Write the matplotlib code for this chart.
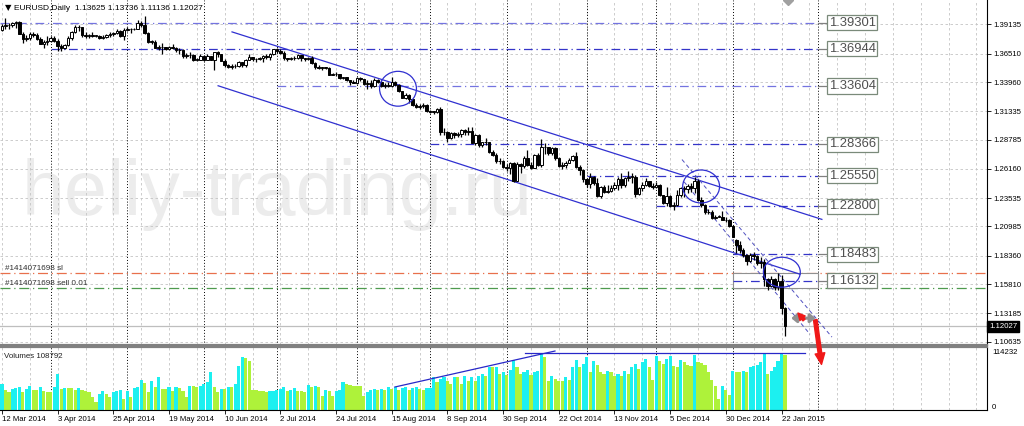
import numpy as np
import pandas as pd
import matplotlib
matplotlib.use("Agg")
import matplotlib.pyplot as plt
from matplotlib.patches import Ellipse, Rectangle, FancyArrowPatch

plt.rcParams['font.family'] = ['Liberation Sans', 'DejaVu Sans']

# ---------------- data ----------------
dates = pd.bdate_range('2014-03-12', '2015-01-23')
dates = dates[~dates.isin(pd.to_datetime(['2014-12-25', '2015-01-01']))]

open_ = [1.3863,1.3903,1.3906,1.3912,1.3928,1.3932,1.3828,1.3779,1.3792,1.3832,1.3823,1.3787,1.3740,1.3752,
 1.3767,1.3792,1.3765,1.3721,1.3703,1.3731,1.3792,1.3850,1.3888,1.3886,1.3815,1.3814,1.3817,1.3812,1.3813,1.3791,1.3800,1.3815,1.3826,1.3835,1.3855,1.3812,
 1.3868,1.3871,1.3870,1.3876,1.3929,1.3910,1.3835,1.3757,1.3760,1.3705,1.3711,1.3710,1.3696,1.3712,1.3699,1.3680,1.3685,1.3627,1.3638,1.3635,1.3595,1.3595,
 1.3633,1.3594,1.3627,1.3595,1.3663,1.3644,1.3589,1.3547,1.3530,1.3544,1.3540,1.3573,1.3546,1.3597,1.3620,1.3606,1.3600,1.3612,1.3626,1.3619,1.3647,
 1.3692,1.3679,1.3656,1.3610,1.3604,1.3610,1.3615,1.3635,1.3610,1.3604,1.3610,1.3565,1.3527,1.3525,1.3523,1.3524,1.3463,1.3465,1.3464,1.3431,1.3437,1.3410,1.3400,
 1.3390,1.3428,1.3420,1.3378,1.3388,1.3362,1.3414,1.3395,1.3364,1.3362,1.3364,1.3400,1.3368,1.3313,1.3255,1.3282,1.3240,1.3193,1.3170,1.3180,1.3186,
 1.3132,1.3128,1.3131,1.3150,1.2944,1.2951,1.2892,1.2940,1.2918,1.2926,1.2963,1.2945,1.2960,1.2850,1.2920,1.2830,1.2855,1.2854,1.2770,1.2745,1.2683,1.2685,
 1.2631,1.2623,1.2670,1.2510,1.2660,1.2645,1.2713,1.2655,1.2628,1.2740,1.2652,1.2816,1.2810,1.2760,1.2800,1.2710,1.2642,1.2650,1.2670,1.2700,1.2733,1.2630,1.2610,
 1.2525,1.2480,1.2540,1.2490,1.2375,1.2450,1.2410,1.2415,1.2440,1.2475,1.2525,1.2470,1.2530,1.2545,1.2545,1.2390,1.2445,1.2470,1.2505,1.2465,
 1.2450,1.2475,1.2380,1.2310,1.2375,1.2285,1.2295,1.2380,1.2445,1.2435,1.2465,1.2440,1.2505,1.2340,1.2290,1.2225,1.2225,1.2175,1.2185,1.2185,1.2160,1.2155,
 1.2100,1.1980,1.1935,1.1890,1.1840,1.1790,1.1840,1.1830,1.1770,1.1780,1.1630,1.1565,1.1630,1.1555,1.1610,1.13625]
high = [1.3913,1.3967,1.3925,1.3935,1.3945,1.3945,1.3850,1.3815,1.3848,1.3850,1.3835,1.3800,1.3770,1.3810,
 1.3806,1.3810,1.3785,1.3738,1.3740,1.3808,1.3855,1.3905,1.3906,1.3890,1.3850,1.3830,1.3850,1.3820,1.3815,1.3820,1.3830,1.3850,1.3845,1.3875,1.3865,1.3877,
 1.3890,1.3885,1.3885,1.3950,1.3945,1.3993,1.3845,1.3775,1.3775,1.3730,1.3745,1.3715,1.3720,1.3735,1.3710,1.3705,1.3690,1.3660,1.3665,1.3650,1.3615,1.3650,
 1.3640,1.3650,1.3630,1.3670,1.3677,1.3652,1.3600,1.3560,1.3560,1.3560,1.3585,1.3580,1.3600,1.3645,1.3625,1.3610,1.3620,1.3640,1.3645,1.3655,1.3695,
 1.3700,1.3690,1.3675,1.3615,1.3625,1.3632,1.3650,1.3640,1.3615,1.3625,1.3630,1.3575,1.3545,1.3530,1.3535,1.3530,1.3480,1.3490,1.3470,1.3445,1.3445,1.3415,1.3410,
 1.3445,1.3440,1.3425,1.3410,1.3410,1.3430,1.3420,1.3410,1.3390,1.3400,1.3445,1.3405,1.3380,1.3320,1.3300,1.3290,1.3245,1.3205,1.3200,1.3210,1.3200,
 1.3145,1.3140,1.3160,1.3170,1.2980,1.2960,1.2950,1.2945,1.2945,1.2975,1.2970,1.2990,1.2995,1.2925,1.2925,1.2860,1.2890,1.2860,1.2790,1.2755,1.2710,1.2695,
 1.2660,1.2680,1.2675,1.2680,1.2670,1.2730,1.2790,1.2680,1.2750,1.2755,1.2887,1.2845,1.2815,1.2810,1.2810,1.2720,1.2680,1.2685,1.2715,1.2745,1.2765,1.2655,1.2615,
 1.2530,1.2575,1.2555,1.2530,1.2460,1.2470,1.2470,1.2470,1.2495,1.2545,1.2575,1.2540,1.2600,1.2580,1.2560,1.2450,1.2500,1.2530,1.2510,1.2485,
 1.2500,1.2480,1.2385,1.2455,1.2380,1.2320,1.2430,1.2455,1.2460,1.2480,1.2485,1.2545,1.2525,1.2360,1.2305,1.2260,1.2250,1.2205,1.2200,1.2235,1.2185,1.2165,
 1.2115,1.1985,1.1970,1.1905,1.1850,1.1860,1.1865,1.1840,1.1820,1.1810,1.1635,1.1650,1.1640,1.1680,1.1660,1.13736]
low = [1.3851,1.3870,1.3872,1.3890,1.3880,1.3825,1.3750,1.3765,1.3770,1.3800,1.3770,1.3735,1.3704,1.3730,
 1.3752,1.3755,1.3673,1.3672,1.3696,1.3720,1.3770,1.3840,1.3855,1.3805,1.3790,1.3795,1.3805,1.3805,1.3780,1.3783,1.3795,1.3805,1.3810,1.3825,1.3805,1.3776,
 1.3855,1.3840,1.3860,1.3870,1.3890,1.3830,1.3750,1.3738,1.3703,1.3680,1.3647,1.3680,1.3680,1.3690,1.3670,1.3650,1.3615,1.3610,1.3610,1.3585,1.3585,1.3590,
 1.3585,1.3590,1.3590,1.3503,1.3620,1.3585,1.3530,1.3520,1.3515,1.3525,1.3535,1.3530,1.3530,1.3590,1.3585,1.3580,1.3590,1.3580,1.3600,1.3590,1.3640,
 1.3660,1.3650,1.3590,1.3585,1.3590,1.3590,1.3605,1.3585,1.3585,1.3590,1.3560,1.3515,1.3515,1.3500,1.3510,1.3460,1.3455,1.3450,1.3420,1.3420,1.3405,1.3367,1.3385,
 1.3377,1.3405,1.3365,1.3333,1.3345,1.3355,1.3385,1.3355,1.3345,1.3350,1.3355,1.3365,1.3310,1.3250,1.3240,1.3210,1.3180,1.3160,1.3150,1.3160,1.3125,
 1.3115,1.3110,1.3120,1.2920,1.2920,1.2860,1.2880,1.2890,1.2900,1.2905,1.2920,1.2920,1.2850,1.2835,1.2815,1.2815,1.2835,1.2760,1.2730,1.2670,1.2660,1.2625,
 1.2600,1.2570,1.2500,1.2505,1.2580,1.2620,1.2640,1.2615,1.2620,1.2640,1.2630,1.2750,1.2745,1.2745,1.2700,1.2630,1.2615,1.2625,1.2665,1.2690,1.2625,1.2565,1.2500,
 1.2455,1.2440,1.2470,1.2360,1.2355,1.2400,1.2400,1.2410,1.2425,1.2430,1.2440,1.2455,1.2510,1.2490,1.2360,1.2380,1.2420,1.2460,1.2450,1.2435,
 1.2440,1.2370,1.2300,1.2280,1.2270,1.2245,1.2280,1.2365,1.2360,1.2395,1.2410,1.2400,1.2330,1.2275,1.2215,1.2210,1.2165,1.2165,1.2180,1.2160,1.2140,1.2095,
 1.2000,1.1860,1.1860,1.1825,1.1755,1.1780,1.1800,1.1750,1.1730,1.1565,1.1525,1.1560,1.1530,1.1530,1.1315,1.11136]
close = [1.3903,1.3906,1.3912,1.3928,1.3932,1.3828,1.3779,1.3792,1.3832,1.3823,1.3787,1.3740,1.3752,1.3767,
 1.3792,1.3765,1.3721,1.3703,1.3731,1.3792,1.3850,1.3888,1.3886,1.3815,1.3814,1.3817,1.3812,1.3813,1.3791,1.3800,1.3815,1.3826,1.3835,1.3855,1.3812,1.3868,
 1.3871,1.3870,1.3876,1.3929,1.3910,1.3835,1.3757,1.3760,1.3705,1.3711,1.3710,1.3696,1.3712,1.3699,1.3680,1.3685,1.3627,1.3638,1.3635,1.3595,1.3595,1.3633,
 1.3594,1.3627,1.3595,1.3663,1.3644,1.3589,1.3547,1.3530,1.3544,1.3540,1.3573,1.3546,1.3597,1.3620,1.3606,1.3600,1.3612,1.3626,1.3619,1.3647,1.3692,
 1.3679,1.3656,1.3610,1.3604,1.3610,1.3615,1.3635,1.3610,1.3604,1.3610,1.3565,1.3527,1.3525,1.3523,1.3524,1.3463,1.3465,1.3464,1.3431,1.3437,1.3410,1.3400,1.3390,
 1.3428,1.3420,1.3378,1.3388,1.3362,1.3414,1.3395,1.3364,1.3362,1.3364,1.3400,1.3368,1.3313,1.3255,1.3282,1.3240,1.3193,1.3170,1.3180,1.3186,1.3132,
 1.3128,1.3131,1.3150,1.2944,1.2951,1.2892,1.2940,1.2918,1.2926,1.2963,1.2945,1.2960,1.2850,1.2920,1.2830,1.2855,1.2854,1.2770,1.2745,1.2683,1.2685,1.2631,
 1.2623,1.2670,1.2510,1.2660,1.2645,1.2713,1.2655,1.2628,1.2740,1.2652,1.2816,1.2810,1.2760,1.2800,1.2710,1.2642,1.2650,1.2670,1.2700,1.2733,1.2630,1.2610,1.2525,
 1.2480,1.2540,1.2490,1.2375,1.2450,1.2410,1.2415,1.2440,1.2475,1.2525,1.2470,1.2530,1.2545,1.2545,1.2390,1.2445,1.2470,1.2505,1.2465,1.2450,
 1.2475,1.2380,1.2310,1.2375,1.2285,1.2295,1.2380,1.2445,1.2435,1.2465,1.2440,1.2505,1.2340,1.2290,1.2225,1.2225,1.2175,1.2185,1.2185,1.2160,1.2155,1.2100,
 1.2000,1.1935,1.1890,1.1840,1.1790,1.1840,1.1830,1.1770,1.1780,1.1630,1.1565,1.1630,1.1555,1.1610,1.1365,1.12027]
volume = [51000,39000,35000,41000,43000,45000,35000,41000,48000,39000,39000,45000,38000,35000,35000,46000,71000,41000,43000,43000,
 43000,39000,43000,39000,38000,35000,25000,15000,31000,38000,32000,25000,35000,38000,39000,21000,38000,25000,43000,45000,
 59000,53000,35000,57000,46000,65000,41000,41000,45000,38000,46000,43000,38000,25000,48000,48000,46000,48000,51000,55000,
 75000,45000,35000,41000,41000,46000,45000,51000,88000,105000,103000,98000,39000,39000,38000,37000,35000,37000,38000,39000,
 41000,45000,38000,39000,43000,38000,37000,35000,50000,45000,48000,45000,
 28000,39000,38000,28000,38000,40000,55000,51000,50000,48000,48000,48000,28000,35000,39000,41000,39000,41000,39000,45000,
 41000,46000,39000,43000,46000,39000,43000,45000,42000,40000,43000,44000,65000,55000,61000,65000,58000,51000,65000,65000,
 51000,68000,58000,65000,58000,68000,71000,68000,85000,85000,86000,71000,75000,70000,80000,100000,86000,72000,75000,80000,
 70000,75000,78000,112000,105000,58000,68000,61000,58000,58000,65000,60000,85000,100000,85000,91000,105000,75000,97000,89000,
 75000,71000,78000,75000,68000,71000,68000,78000,71000,85000,91000,81000,95000,102000,85000,60000,107000,98000,92000,102000,
 107000,88000,86000,100000,95000,90000,88000,110000,96000,93000,90000,75000,60000,48000,22000,48000,40000,30000,78000,76000,
 75000,77000,75000,85000,88000,90000,95000,113000,72000,78000,85000,98000,114232,108792]

price_ticks = [1.39135, 1.36510, 1.33960, 1.31335, 1.28785, 1.26160, 1.23535,
               1.20985, 1.18360, 1.15810, 1.13185, 1.10635]
levels = [1.39301, 1.36944, 1.33604, 1.28366, 1.25550, 1.22800, 1.18483, 1.16132]
level_start = ['2014-03-12', '2014-04-01', '2014-07-01', '2014-09-01',
               '2014-11-03', '2014-12-01', '2015-01-02', '2015-01-02']
sl_price = 1.16785
sell_price = 1.15445
bid = 1.12027

# chart objects: (bar position, price)
channel_upper = [(66.1, 1.38464), (235.6, 1.21625)]
channel_lower = [(62.1, 1.33627), (229.3, 1.16698)]
steep_a = [(195.4, 1.27000), (238.5, 1.11050)]
steep_b = [(196.0, 1.25000), (232.2, 1.11300)]
circles = [(113.8, 1.33358, 10.6, 0.0313), (200.9, 1.24580, 10.6, 0.0296), (224.1, 1.16878, 10.6, 0.0269)]
vol_trend = [(112.9, 45700), (158.9, 117200)]
vol_level = (150.3, 230.7, 114232)

# ---------------- figure ----------------
W, H = 1024, 426
fig = plt.figure(figsize=(W / 100, H / 100), dpi=100, facecolor='white')
axw = 987 / W
ax = fig.add_axes([0, (H - 345) / H, axw, 345 / H])
axv = fig.add_axes([0, (H - 410) / H, axw, (410 - 347) / H])

n = len(close)
x = np.arange(n)
o = np.array(open_); hi = np.array(high); lo = np.array(low); c = np.array(close)
xl = (-0.575, 283.05)
for a in (ax, axv):
    a.set_xlim(*xl)
ax.set_ylim(1.1034, 1.4133)
vmax = 125200
axv.set_ylim(0, vmax)

grid_kw = dict(color='#C4C4C4', lw=0.6, ls=(0, (3, 3)), zorder=1)
sep_kw = dict(color='black', lw=0.7, ls=(0, (1, 2)), zorder=1.5)
for gx in np.arange(0, 284, 8):
    ax.axvline(gx, **grid_kw)
    axv.axvline(gx, **grid_kw)
for p in price_ticks:
    ax.axhline(p, **grid_kw)

month_first = [i for i in range(1, n) if dates[i].month != dates[i - 1].month]
for i in month_first:
    ax.axvline(i, **sep_kw)
    axv.axvline(i, **sep_kw)
ax.axvline(234.5, **sep_kw)
axv.axvline(234.5, **sep_kw)

# watermark
ax.text(22 / 987, 1 - 215 / 345, 'heliy-trading.ru', transform=ax.transAxes,
        fontsize=55.6, color='#ECECEC', va='baseline', ha='left', zorder=0.5)

# order lines
ax.axhline(sl_price, color='#E8704C', lw=0.9, ls=(0, (8, 3, 1, 3)), zorder=2)
ax.axhline(sell_price, color='#4E9A4E', lw=0.9, ls=(0, (8, 3, 1, 3)), zorder=2)
ax.text(5 / 987, sl_price + 0.0045, '#1414071698 sl', fontsize=5.9, color='#303030',
        transform=ax.get_yaxis_transform(), va='center', zorder=6)
ax.text(5 / 987, sell_price + 0.0045, '#1414071698 sell 0.01', fontsize=5.9, color='#303030',
        transform=ax.get_yaxis_transform(), va='center', zorder=6)
ax.add_patch(Rectangle((210, sell_price), 234.5 - 210, sl_price - sell_price,
                       facecolor='white', edgecolor='#909090', lw=0.8, zorder=2.5))
ax.axhline(bid, color='#BEBEBE', lw=0.9, zorder=2)

# level lines with labels
pos = {d: i for i, d in enumerate(dates.strftime('%Y-%m-%d'))}
lvl_colors = ['#7474E0', '#3434C8', '#7474E0', '#3434C8', '#3434C8', '#3434C8', '#3434C8', '#3434C8']
for lv, st, col in zip(levels, level_start, lvl_colors):
    s = pos[st] if st != '2014-03-12' else xl[0]
    ax.plot([s, 234.5], [lv, lv], color=col, lw=0.9, ls=(0, (7, 3, 1, 3)), zorder=3)
    ax.plot([234.5, 237.4], [lv, lv], color='#808080', lw=0.9, zorder=3)
    ax.text(237.6, lv, f'{lv:.5f}', fontsize=9.4, color='#505050', va='center', ha='left',
            zorder=7, bbox=dict(boxstyle='square,pad=0.12', fc='white', ec='#7A8A7A', lw=0.9))

# channel and trend lines
for ln in (channel_upper, channel_lower):
    ax.plot([ln[0][0], ln[1][0]], [ln[0][1], ln[1][1]], color='#3030D0', lw=0.9, zorder=3)
for ln in (steep_a, steep_b):
    ax.plot([ln[0][0], ln[1][0]], [ln[0][1], ln[1][1]], color='#5050C0', lw=0.7,
            ls=(0, (4, 3)), zorder=3)
for cx, cy, w, h in circles:
    ax.add_patch(Ellipse((cx, cy), w, h, fill=False, ec='#3030D0', lw=0.9, zorder=6))

# candles
up = c >= o
ax.vlines(x, lo, hi, color='black', lw=0.9, zorder=4)
bh = np.maximum(np.abs(c - o), 0.0004)
ax.bar(x[up], bh[up], bottom=o[up], width=0.72, color='white', edgecolor='black', lw=0.7, zorder=5)
ax.bar(x[~up], bh[~up], bottom=c[~up], width=0.72, color='black', edgecolor='black', lw=0.7, zorder=5)

# axes styling main
ax.set_xticks([])
ax.yaxis.tick_right()
ax.set_yticks(price_ticks)
ax.set_yticklabels([f'{p:.5f}' for p in price_ticks], fontsize=5.6)
ax.tick_params(axis='y', length=3, pad=1.5, width=0.6, colors='black')
for s in ('left', 'top'):
    ax.spines[s].set_visible(False)
ax.spines['right'].set_color('black'); ax.spines['right'].set_linewidth(0.8)
ax.spines['bottom'].set_color('#808080'); ax.spines['bottom'].set_linewidth(1.6)
ax.text(1.0 + 2 / 987, bid, f'{bid:.5f}', transform=ax.get_yaxis_transform(), fontsize=5.6,
        color='white', va='center', ha='left',
        bbox=dict(boxstyle='square,pad=0.25', fc='black', ec='black'), clip_on=False, zorder=8)

ax.text(5 / 987, 1 - 8 / 345, '\u25bc', transform=ax.transAxes, fontsize=6, va='center', ha='left',
        color='black', family=['DejaVu Sans'])
ax.text(14 / 987, 1 - 8 / 345, 'EURUSD,Daily  1.13625 1.13736 1.11136 1.12027',
        transform=ax.transAxes, fontsize=6.0, va='center', ha='left', color='black')

# volumes
vol = np.array(volume)
vcol = ['#1CF0F0' if i > 0 and vol[i] > vol[i - 1] else '#AEF23A' for i in range(n)]
vcol[0] = '#1CF0F0'
axv.bar(x, vol, width=0.9, color=vcol, lw=0, zorder=2)
axv.plot([vol_trend[0][0], vol_trend[1][0]], [vol_trend[0][1], vol_trend[1][1]],
         color='#2828C8', lw=0.9, zorder=3, clip_on=False)
axv.plot([vol_level[0], vol_level[1]], [vol_level[2], vol_level[2]], color='#2828C8', lw=0.9, zorder=3)
axv.text(4 / 987, 1 - 9 / 63, f'Volumes {volume[-1]}', transform=axv.transAxes, fontsize=5.7,
         va='center', ha='left', color='#202020')
axv.set_yticks([])
axv.text(1.0 + 5 / 987, 114232, '114232', transform=axv.get_yaxis_transform(), fontsize=5.6,
         va='center', ha='left', clip_on=False)
axv.text(1.0 + 5 / 987, 5000, '0', transform=axv.get_yaxis_transform(), fontsize=5.6,
         va='center', ha='left', clip_on=False)
axv.spines['left'].set_visible(False)
axv.spines['top'].set_color('#808080'); axv.spines['top'].set_linewidth(1.6)
axv.spines['right'].set_color('black'); axv.spines['right'].set_linewidth(0.8)
axv.spines['bottom'].set_color('black'); axv.spines['bottom'].set_linewidth(0.8)
lab_idx = list(range(0, n, 16))
axv.set_xticks(lab_idx)
axv.set_xticklabels([f'{dates[i].day} {dates[i].strftime("%b %Y")}' for i in lab_idx],
                    fontsize=5.6, ha='left')
axv.tick_params(axis='x', length=3, pad=1, width=0.6)

# arrows
tr = ax.transData
big = FancyArrowPatch((233.6, 1.1285), (235.6, 1.0835), transform=tr,
                      arrowstyle='simple,head_width=7,head_length=8,tail_width=2.6',
                      color='#F01818', zorder=9, clip_on=False, mutation_scale=1)
fig.add_artist(big)
g = FancyArrowPatch((226.0, 1.1275), (234.6, 1.1275), transform=tr,
                    arrowstyle='<|-|>,head_width=2.5,head_length=3',
                    color='#909090', lw=2.2, zorder=9)
fig.add_artist(g)
r = FancyArrowPatch((231.0, 1.1240), (228.2, 1.1340), transform=tr,
                    arrowstyle='simple,head_width=5,head_length=5,tail_width=2',
                    color='#F01818', zorder=9.5, mutation_scale=1)
fig.add_artist(r)
ax.plot([225.9], [1.4135], marker='D', ms=5, color='#A0A0A0', clip_on=True, zorder=3)

fig.savefig('out.png', dpi=100, facecolor='white')
